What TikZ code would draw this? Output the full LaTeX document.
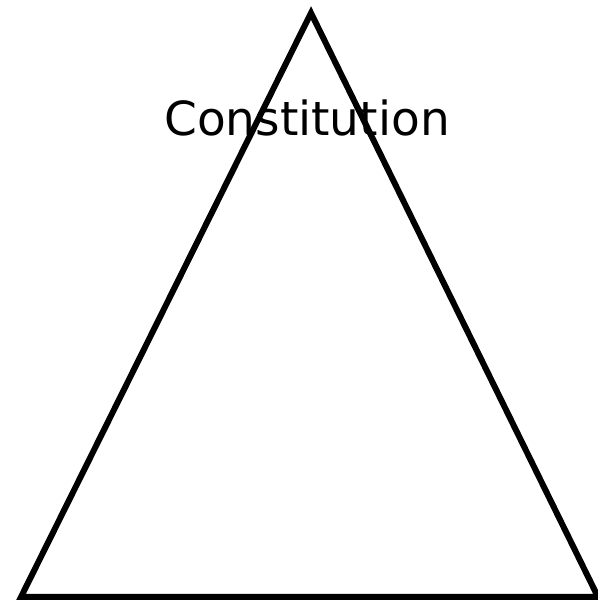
\documentclass[tikz,border=0pt]{standalone}
\usepackage{fontspec}
\setmainfont{DejaVu Sans}
\begin{document}
\begin{tikzpicture}[
    x=1pt, y=1pt,
    edge/.style={draw=black, line width=6pt, line join=miter},
    title/.style={font=\fontsize{47}{55}\selectfont, anchor=base, inner sep=0pt}
  ]
  \useasboundingbox (0,0) rectangle (597,602);
  %% corners of the triangle
  \coordinate (apex)  at (311,589);
  \coordinate (left)  at (21,5);
  \coordinate (right) at (598,5);
  \draw[edge] (left) -- (apex) -- (right) -- cycle;
  %% label near the top
  \node[title] (const) at (307,466) {Constitution};
\end{tikzpicture}
\end{document}
